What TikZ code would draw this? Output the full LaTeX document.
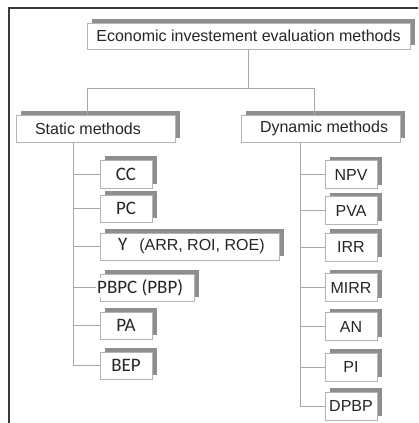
\documentclass[tikz,border=0pt]{standalone}
\usepackage{fontspec}
\setmainfont{Liberation Sans}
\newfontfamily\carl{Carlito}
\usetikzlibrary{shadows}
\definecolor{shd}{HTML}{8E8E8E}
\definecolor{bord}{HTML}{B4B4B4}
\definecolor{connc}{HTML}{A8A8A8}
\definecolor{txt}{HTML}{262626}
\definecolor{framec}{HTML}{3A3A3A}
\begin{document}
\begin{tikzpicture}[x=1pt,y=-1pt,
 bx/.style={draw=bord, line width=0.9pt, fill=white, text=txt, inner sep=0pt, minimum height=27pt,
   general shadow={fill=shd, shadow xshift=4.5pt, shadow yshift=4pt}},
 conn/.style={draw=connc, line width=1pt},
 ar/.style={font=\fontsize{16}{16}\selectfont},
 cb/.style={font=\carl\fontsize{19}{19}\selectfont}]
\useasboundingbox (0,0) rectangle (418,423);
\draw[framec, line width=1.5pt] (9,423) -- (9,8) -- (418,8);

% top
\node[bx, ar, minimum width=323pt, minimum height=26pt] (top) at (248.5,36) {Economic investement evaluation methods};
\node[bx, ar, inner xsep=19pt] (static) at (95.5,128.5) {\makebox[121pt][l]{Static methods}};
\node[bx, ar, inner xsep=19pt] (dyn) at (320.5,128.5) {\makebox[121pt][l]{Dynamic methods}};

% static children
\node[bx, cb, minimum width=52pt, minimum height=28pt] (cc) at (126,174) {CC};
\node[bx, cb, minimum width=52pt] (pc) at (126,208.5) {PC};
\node[bx, inner xsep=18pt] (y) at (189.5,246.5) {\makebox[143pt][l]{{\carl\fontsize{19}{19}\selectfont Y}\hspace{12pt}{\fontsize{16}{16}\selectfont (ARR, ROI, ROE)}}};
\node[bx, minimum width=94pt] (pbpc) at (147,287.5) {};
\node[cb, fill=white, text=txt, inner sep=1pt, anchor=west] (pbpct) at (96,287.5) {PBPC (PBP)};
\node[bx, cb, minimum width=52pt] (pa) at (126,325.5) {PA};
\node[bx, cb, minimum width=52pt] (bep) at (126,365.5) {BEP};

% dynamic children
\node[bx, ar, minimum width=52pt, minimum height=28pt] (npv) at (351,174.5) {NPV};
\node[bx, ar, minimum width=52pt, minimum height=28pt] (pva) at (351,210.5) {PVA};
\node[bx, ar, minimum width=52pt, minimum height=28pt] (irr) at (351,247) {IRR};
\node[bx, ar, minimum width=52pt, minimum height=28pt] (mirr) at (351,287.5) {MIRR};
\node[bx, ar, minimum width=52pt, minimum height=28pt] (an) at (351,326.5) {AN};
\node[bx, ar, minimum width=52pt, minimum height=28pt] (pi) at (351,367) {PI};
\node[bx, ar, minimum width=52pt, minimum height=28pt] (dpbp) at (351,406) {DPBP};

% connectors top
\coordinate (jl) at (87,88);
\coordinate (jr) at (314,88);
\draw[conn] (jl) -- (jr);
\draw[conn] (top.south) -- (top.south |- jl);
\draw[conn] (jl) -- (jl |- static.north);
\draw[conn] (jr) -- (jr |- dyn.north);

% static trunk
\coordinate (st) at (73,142);
\draw[conn] (st) -- (st |- bep.west);
\foreach \n in {cc,pc,y,pa,bep} \draw[conn] (st |- \n.west) -- (\n.west);
\draw[conn] (st |- pbpct.west) -- (pbpct.west);

% dynamic trunk
\coordinate (dt) at (300,143);
\draw[conn] (dt) -- (dt |- dpbp.west);
\foreach \n in {npv,pva,irr,mirr,an,pi,dpbp} \draw[conn] (dt |- \n.west) -- (\n.west);
\end{tikzpicture}
\end{document}
